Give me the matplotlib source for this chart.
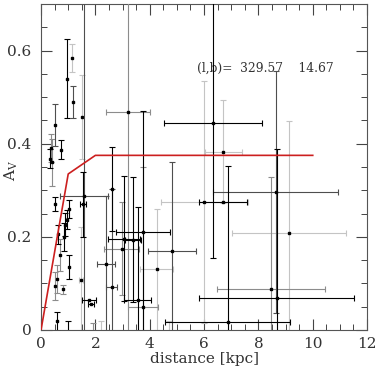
import matplotlib
matplotlib.use('Agg')
import matplotlib.pyplot as plt
from matplotlib.ticker import MultipleLocator, FuncFormatter

plt.rcParams['font.family'] = ['DejaVu Serif']
plt.rcParams['mathtext.fontset'] = 'dejavuserif'

# --- data ---
dist = [0.96, 1.14, 1.16, 1.51, 0.52, 0.37, 0.34, 0.74, 0.39,
        0.51, 1.03, 0.96, 0.88, 0.85, 0.70, 1.03, 0.59, 0.51, 0.81, 0.59, 0.62,
        1.58, 1.55, 1.47, 1.76, 1.84, 2.39, 2.60, 2.60, 2.97, 3.05, 3.38, 3.20,
        3.56, 3.75, 3.75, 4.26, 4.82, 6.00, 6.70, 6.32, 6.70, 6.87, 8.46, 8.68,
        8.64, 9.12, 0.99, 1.90, 2.20, 4.70]
av = [0.540, 0.585, 0.490, 0.458, 0.440, 0.390, 0.368, 0.387, 0.360,
      0.270, 0.260, 0.237, 0.226, 0.200, 0.161, 0.135, 0.110, 0.095, 0.087, 0.018, 0.205,
      0.288, 0.270, 0.107, 0.064, 0.056, 0.142, 0.093, 0.303, 0.174, 0.196, 0.194, 0.468,
      0.064, 0.050, 0.210, 0.130, 0.170, 0.275, 0.275, 0.445, 0.383, 0.017, 0.088, 0.069,
      0.297, 0.209, -0.020, -0.020, -0.030, -0.030]
dist_err = [0, 0, 0, 0, 0, 0, 0, 0, 0,
            0, 0, 0, 0, 0, 0, 0, 0, 0, 0, 0, 0,
            0.90, 0.12, 0.08, 0.25, 0.12, 0.33, 0.20, 0, 0.65, 0.60, 0.30, 0.80,
            0.50, 0.55, 1.00, 0.60, 0.90, 1.60, 0.87, 1.80, 0.68, 2.30, 2.00, 2.85,
            2.30, 2.10, 0, 0, 0, 0]
av_err = [0.085, 0.030, 0.035, 0.090, 0.045, 0.030, 0.020, 0.020, 0.050,
          0.015, 0.020, 0.020, 0.025, 0.030, 0.035, 0.025, 0.030, 0.030, 0.010, 0.020, 0.020,
          0.700, 0.070, 0.115, 0, 0, 0.145, 0.210, 0.090, 0.100, 0.135, 0.135, 0.500,
          0.200, 0.300, 0.260, 0.130, 0.190, 0.260, 0, 0.290, 0.110, 0.335, 0.240, 0.320,
          0.260, 0.240, 0.040, 0.035, 0.050, 0.050]
shade = ['k', 'l', 'd', 'l', 'd', 'g', 'k', 'k', 'g',
         'k', 'k', 'k', 'k', 'k', 'g', 'k', 'g', 'g', 'g', 'k', 'k',
         'd', 'k', 'l', 'k', 'k', 'd', 'd', 'k', 'g', 'k', 'k', 'g',
         'k', 'g', 'k', 'l', 'd', 'l', 'k', 'k', 'l', 'k', 'g', 'k',
         'd', 'l', 'k', 'g', 'l', 'l']

model_d = [0, 1, 2, 10]
model_av = [0, 0.335, 0.375, 0.375]

colors = {'l': '#c4c4c4', 'g': '#8c8c8c', 'd': '#4e4e4e', 'k': '#000000'}
order = {'l': 0, 'g': 1, 'd': 2, 'k': 3}

fig = plt.figure(figsize=(3.8, 3.74), dpi=100)
ax = fig.add_axes([0.108, 0.118, 0.858, 0.871])

idx = sorted(range(len(dist)), key=lambda i: order[shade[i]])
for i in idx:
    c = colors[shade[i]]
    ax.errorbar(dist[i], av[i],
                xerr=dist_err[i] if dist_err[i] > 0 else None,
                yerr=av_err[i] if av_err[i] > 0 else None,
                fmt='s', ms=2, mfc='k', mec='k', ecolor=c,
                elinewidth=0.8, capsize=2, capthick=0.8, zorder=2 + order[shade[i]])

ax.plot(model_d, model_av, color='#cc1f1f', lw=1.2, zorder=10)

ax.text(5.75, 0.555, '(l,b)=  329.57    14.67', fontsize=8.8, color='#333333')

ax.set_xlim(0, 12)
ax.set_ylim(0, 0.7)
ax.xaxis.set_major_locator(MultipleLocator(2))
ax.xaxis.set_minor_locator(MultipleLocator(0.5))
ax.yaxis.set_major_locator(MultipleLocator(0.2))
ax.yaxis.set_minor_locator(MultipleLocator(0.05))
ax.yaxis.set_major_formatter(FuncFormatter(lambda v, p: '%g' % round(v, 2)))
ax.tick_params(which='both', direction='in', top=True, right=True, colors='#444444',
               labelsize=11, labelcolor='#333333')
ax.tick_params(which='major', length=8, width=0.8)
ax.tick_params(which='minor', length=4, width=0.7)
ax.tick_params(axis='y', pad=7)
ax.tick_params(axis='x', pad=5)
for s in ax.spines.values():
    s.set_color('#555555')
    s.set_linewidth(0.8)

ax.set_xlabel('distance [kpc]', fontsize=11, color='#333333', labelpad=1)
ax.set_ylabel(r'$\mathrm{A_V}$', fontsize=11, color='#333333')
ax.yaxis.set_label_coords(-0.065, 0.49)

fig.savefig('out.png', dpi=100)
